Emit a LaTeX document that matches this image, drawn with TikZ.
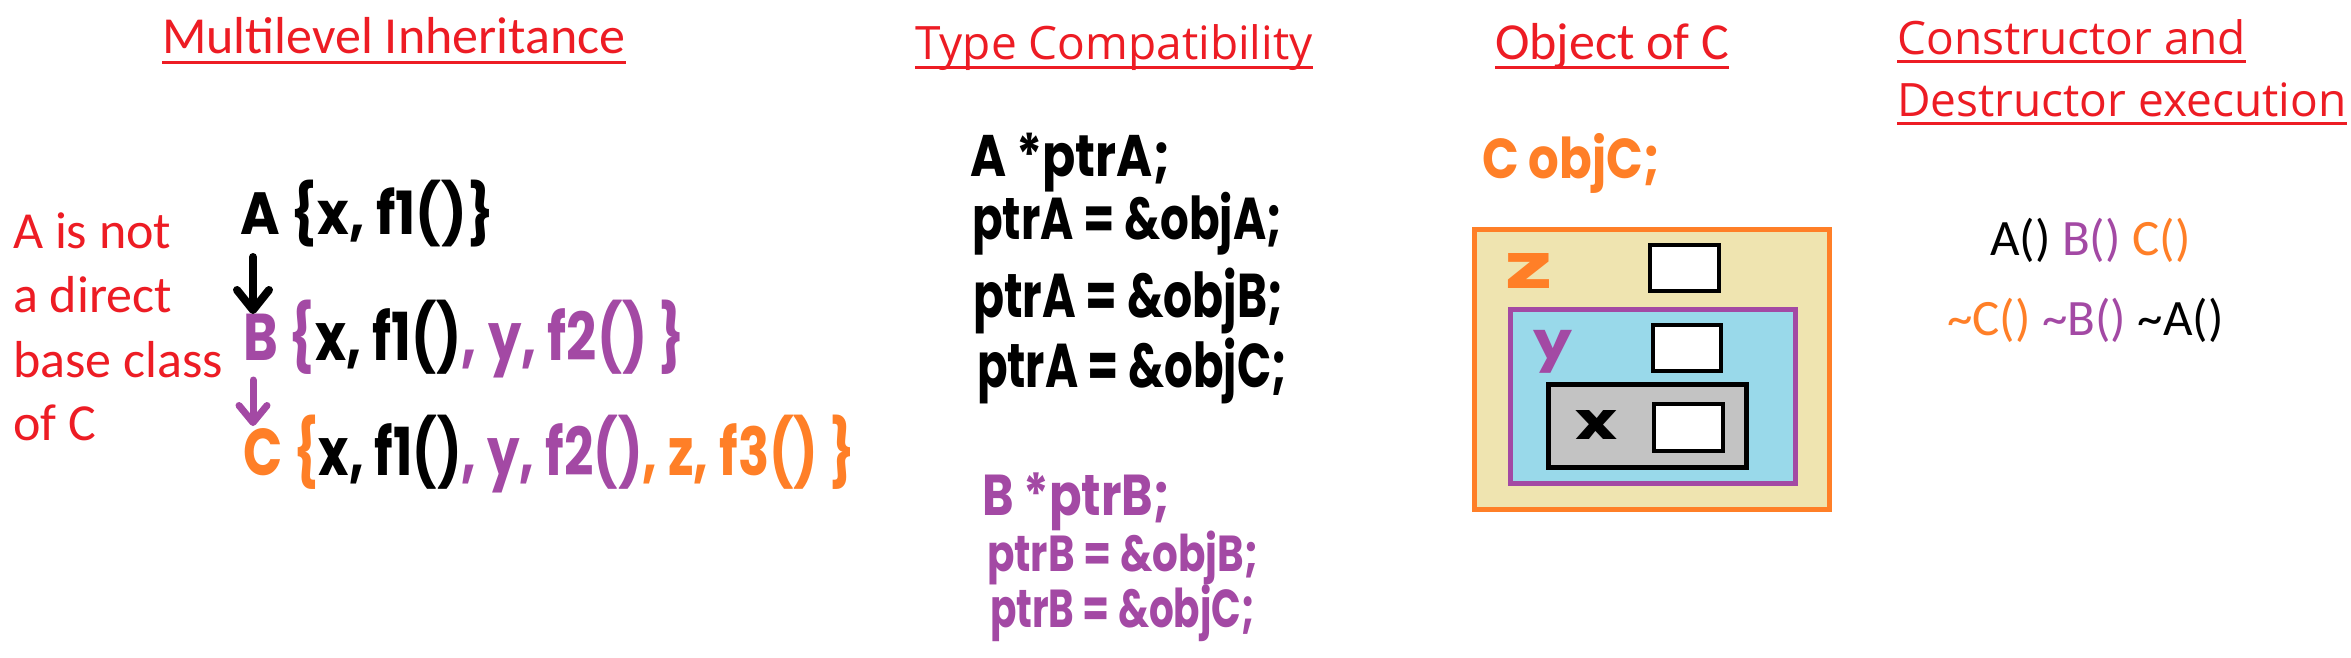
\documentclass[tikz,border=0pt]{standalone}
\usepackage{fontspec}
\setmainfont{Carlito}
\newfontfamily\segoe{Open Sans}
\newfontfamily\hand{Poppins}
\usetikzlibrary{arrows.meta}
\definecolor{cred}{HTML}{ED1C24}
\definecolor{corange}{HTML}{FF7F27}
\definecolor{cpurple}{HTML}{A349A4}
\definecolor{cyel}{HTML}{EFE4B0}
\definecolor{cblue}{HTML}{99D9EA}
\definecolor{cgray}{HTML}{C3C3C3}
\newcommand{\cO}[1]{\textcolor{corange}{#1}}
\newcommand{\cP}[1]{\textcolor{cpurple}{#1}}
\newcommand{\hw}[3]{\resizebox*{#1pt}{#2pt}{\hand\bfseries\fontsize{40}{48}\selectfont #3}}
\begin{document}
\begin{tikzpicture}[x=1pt,y=-1pt,
  title/.style={anchor=base west, inner sep=0pt, text=cred, font=\fontsize{52}{60}\selectfont},
  stitle/.style={anchor=base west, inner sep=0pt, text=cred, font=\segoe\fontsize{46}{55}\selectfont},
  uline/.style={draw=cred, line width=3pt},
  hwnode/.style={anchor=north west, inner sep=0pt, outer sep=0pt},
  body/.style={anchor=base west, inner sep=0pt, font=\fontsize{51}{60}\selectfont},
  redbody/.style={body, text=cred, font=\fontsize{52}{60}\selectfont},
  blackarrow/.style={draw=black, line width=8pt, line cap=round, -{Straight Barb[length=20pt,width=32pt,round,line width=8pt]}},
  purplearrow/.style={draw=cpurple, line width=7pt, line cap=round, -{Straight Barb[length=17pt,width=28pt,round,line width=7pt]}},
  outerbox/.style={draw=corange, fill=cyel, line width=5pt},
  midbox/.style={draw=cpurple, fill=cblue, line width=5pt},
  innerbox/.style={draw=black, fill=cgray, line width=5pt},
  slot/.style={draw=black, fill=white, line width=4pt},
]
\fill[white] (0,0) rectangle (2351,658);
\useasboundingbox (0,0) rectangle (2351,658);

% ---------- Multilevel Inheritance ----------
\node[title] (t1) at (162,54) {Multilevel Inheritance};
\draw[uline] ([shift={(0,9)}]t1.base west) -- ([shift={(0,9)}]t1.base east);

\node[redbody] (r1) at (13,248) {A is not};
\node[redbody] (r2) at (13,312) {a direct};
\node[redbody] (r3) at (13,377) {base class};
\node[redbody] (r4) at (13,440) {of C};

\node[hwnode] (Aln) at (240,180) {\hw{254}{67}{A \{x, f1()\}}};
\node[hwnode] (Bln) at (243,300) {\hw{442}{78}{\cP{B \{}x, f1()\cP{, y, f2() \}}}};
\node[hwnode] (Cln) at (243,415) {\hw{612}{78}{\cO{C \{}x, f1()\cP{, y, f2()}\cO{, z, f3() \}}}};

\draw[blackarrow] ([shift={(13,10)}]Aln.south west) -- ([shift={(10,14)}]Bln.north west);
\draw[purplearrow] ([shift={(10,2)}]Bln.south west) -- ([shift={(10,11)}]Cln.north west);

% ---------- Type Compatibility ----------
\node[stitle] (t2) at (915,60) {Type Compatibility};
\draw[uline] ([shift={(0,8)}]t2.base west) -- ([shift={(0,8)}]t2.base east);

\node[hwnode] (L1) at (970,133) {\hw{200}{59}{A *ptrA;}};
\node[hwnode] (L2) at (972,192) {\hw{310}{63}{ptrA = \&objA;}};
\node[hwnode] (L3) at (973,268) {\hw{310}{66}{ptrA = \&objB;}};
\node[hwnode] (L4) at (977,338) {\hw{310}{66}{ptrA = \&objC;}};

\node[hwnode] (P1) at (982,473) {\hw{188}{58}{\cP{B *ptrB;}}};
\node[hwnode] (P2) at (987,531) {\hw{271}{54}{\cP{ptrB = \&objB;}}};
\node[hwnode] (P3) at (990,585) {\hw{265}{57}{\cP{ptrB = \&objC;}}};

% ---------- Object of C ----------
\node[title] (t3) at (1495,60) {Object of C};
\draw[uline] ([shift={(0,8)}]t3.base west) -- ([shift={(0,8)}]t3.base east);

\node[hwnode] (objc) at (1482,133) {\hw{178}{60}{\cO{C objC;}}};

\draw[outerbox] (1474.5,229.5) rectangle (1829.5,509.5);
\draw[midbox] (1510.5,309.5) rectangle (1795.5,483.5);
\draw[innerbox] (1548.5,384.5) rectangle (1746.5,467.5);
\draw[slot] (1650,245) rectangle (1719,291);
\draw[slot] (1653,325) rectangle (1721,371);
\draw[slot] (1654,404) rectangle (1723,451);

\node[hwnode] (zl) at (1505,253) {\hw{47}{35}{\cO{z}}};
\node[hwnode] (yl) at (1533,330) {\hw{39}{43}{\cP{y}}};
\node[hwnode] (xl) at (1575,410) {\hw{42}{29}{x}};

% ---------- Constructor and Destructor execution ----------
\node[stitle] (t4) at (1897,55) {Constructor and};
\draw[uline] ([shift={(0,7)}]t4.base west) -- ([shift={(0,7)}]t4.base east);
\node[stitle] (t5) at (1897,117) {Destructor execution};
\draw[uline] ([shift={(0,7)}]t5.base west) -- ([shift={(0,7)}]t5.base east);

\node[body] (ctor) at (1990,255) {A() \cP{B()} \cO{C()}};
\node[body] (dtor) at (1947,335) {\cO{\textasciitilde C()} \cP{\textasciitilde B()} \textasciitilde A()};
\end{tikzpicture}
\end{document}
